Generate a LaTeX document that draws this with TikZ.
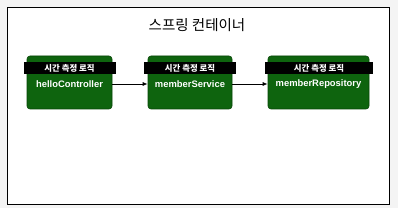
\documentclass[tikz,border=0pt]{standalone}
\usepackage{fontspec}
\usetikzlibrary{arrows.meta}
\setmainfont{Liberation Sans}
\newfontfamily\kor{Noto Sans CJK KR}
\definecolor{boxgreen}{RGB}{14,100,14}
\definecolor{boxedge}{RGB}{8,70,8}
\definecolor{bggray}{RGB}{244,244,244}
\begin{document}
\begin{tikzpicture}[x=1pt,y=-1pt,
  bean/.style={draw=boxedge,fill=boxgreen,rounded corners=3pt,line width=0.6pt,inner sep=0pt,minimum height=53pt},
  tag/.style={fill=black,inner sep=0pt,text=white,minimum height=12pt,font=\kor\bfseries\fontsize{8.4}{9}\selectfont},
  beanlabel/.style={text=white,font=\bfseries\fontsize{9.4}{11}\selectfont,inner sep=0pt},
  conn/.style={-{Latex[length=5pt,width=4pt]},line width=0.8pt}]
\useasboundingbox (0,0) rectangle (398,208);
\fill[bggray] (0,0) rectangle (398,208);
\draw[fill=white,line width=0.9pt] (7,7) rectangle (389,204);
\node[font=\kor\fontsize{14.5}{16}\selectfont,inner sep=0pt] (title) at (197,25) {스프링 컨테이너};
% boxes
\node[bean,minimum width=85pt] (c1) at (69.5,82.5) {};
\node[bean,minimum width=84pt] (c2) at (190,82.5) {};
\node[bean,minimum width=101pt] (c3) at (318.5,82.5) {};
\node[tag,minimum width=92pt] (t1) at (69.5,68) {시간 측정 로직};
\node[tag,minimum width=92pt] (t2) at (190,68) {시간 측정 로직};
\node[tag,minimum width=108pt] (t3) at (319,68) {시간 측정 로직};
\node[beanlabel] (n1) at (69.5,84) {helloController};
\node[beanlabel] (n2) at (190,84) {memberService};
\node[beanlabel] (n3) at (318.5,84) {memberRepository};
\draw[conn] (c1.east |- n1) -- (c2.west |- n1);
\draw[conn] (c2.east |- n2) -- (c3.west |- n2);
\end{tikzpicture}
\end{document}
